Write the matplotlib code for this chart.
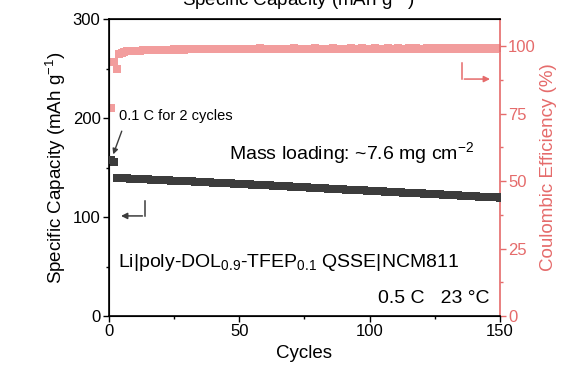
import matplotlib.pyplot as plt

plt.rcParams['font.family'] = ['Liberation Sans', 'DejaVu Sans']

cycles = list(range(1, 151))

# specific capacity, mAh/g (cycles 1-2 at 0.1 C, then 0.5 C)
capacity = [
    158.0, 155.5,
    139.6, 139.4, 139.3, 139.2, 139.0, 138.9, 138.8, 138.6, 138.5, 138.4,
    138.3, 138.1, 138.0, 137.9, 137.8, 137.6, 137.5, 137.4, 137.3, 137.1,
    137.0, 136.9, 136.8, 136.6, 136.5, 136.4, 136.2, 136.1, 136.0, 135.9,
    135.7, 135.6, 135.5, 135.3, 135.2, 135.1, 134.9, 134.8, 134.7, 134.5,
    134.4, 134.3, 134.1, 134.0, 133.9, 133.7, 133.6, 133.5, 133.3, 133.2,
    133.1, 132.9, 132.8, 132.7, 132.5, 132.4, 132.3, 132.1, 132.0, 131.9,
    131.7, 131.6, 131.4, 131.3, 131.2, 131.0, 130.9, 130.8, 130.6, 130.5,
    130.3, 130.2, 130.1, 129.9, 129.8, 129.6, 129.5, 129.4, 129.2, 129.1,
    128.9, 128.8, 128.7, 128.5, 128.4, 128.2, 128.1, 128.0, 127.8, 127.7,
    127.5, 127.4, 127.3, 127.1, 127.0, 126.8, 126.7, 126.6, 126.4, 126.3,
    126.1, 126.0, 125.9, 125.7, 125.6, 125.4, 125.3, 125.2, 125.0, 124.9,
    124.7, 124.6, 124.5, 124.3, 124.2, 124.0, 123.9, 123.8, 123.6, 123.5,
    123.3, 123.2, 123.1, 122.9, 122.8, 122.6, 122.5, 122.4, 122.2, 122.1,
    121.9, 121.8, 121.7, 121.5, 121.4, 121.2, 121.1, 121.0, 120.8, 120.7,
    120.6, 120.4, 120.3, 120.2, 120.0, 119.9, 119.8, 119.7,
]

# coulombic efficiency, %
efficiency = [
    77.0, 94.0, 91.5, 97.2, 97.6, 97.9, 98.0, 98.1, 98.2, 98.2,
    98.3, 98.3, 98.4, 98.4, 98.5, 98.4, 98.5, 98.6, 98.5, 98.6,
    98.6, 98.7, 98.6, 98.7, 98.8, 98.7, 98.8, 98.8, 98.7, 98.9,
    98.8, 98.9, 98.8, 98.9, 99.0, 98.9, 98.9, 99.0, 98.8, 99.0,
    98.9, 99.0, 99.1, 98.9, 99.0, 99.0, 98.8, 99.1, 99.0, 98.9,
    99.0, 99.1, 99.0, 98.9, 99.1, 99.0, 99.0, 99.2, 98.9, 99.0,
    99.1, 99.0, 98.9, 99.1, 99.0, 99.1, 99.0, 98.9, 99.1, 99.0,
    99.2, 99.0, 99.1, 98.9, 99.0, 99.1, 99.0, 99.1, 99.2, 99.0,
    99.1, 98.9, 99.0, 99.1, 99.0, 99.2, 99.1, 99.0, 99.0, 99.1,
    99.0, 99.1, 99.3, 99.1, 99.0, 99.1, 99.2, 99.0, 99.1, 99.0,
    99.1, 99.2, 99.0, 99.1, 99.1, 99.0, 99.2, 99.1, 99.0, 99.1,
    99.2, 99.0, 99.1, 99.1, 99.2, 99.0, 99.1, 99.2, 99.1, 99.0,
    99.1, 99.2, 99.1, 99.0, 99.2, 99.1, 99.1, 99.2, 99.0, 99.1,
    99.2, 99.1, 99.1, 99.2, 99.0, 99.1, 99.2, 99.1, 99.2, 99.1,
    99.1, 99.2, 99.1, 99.2, 99.1, 99.1, 99.2, 99.1, 99.2, 99.2,
]

dark = '#3c3c3c'
pink = '#f29d9d'
red = '#e56b6b'

fig = plt.figure(figsize=(5.61, 3.67), dpi=100)
ax = fig.add_axes([0.194, 0.139, 0.697, 0.809])
ax2 = ax.twinx()

ax.plot(cycles, capacity, 's', color=dark, ms=6, mew=0, zorder=3)
ax2.plot(cycles, efficiency, 's', color=pink, ms=6, mew=0)
ax.set_zorder(ax2.get_zorder() + 1)
ax.patch.set_visible(False)

ax.set_xlim(0, 150)
ax.set_ylim(0, 300)
ax2.set_ylim(0, 110)
ax.set_xticks([0, 50, 100, 150])
ax.set_xticks([25, 75, 125], minor=True)
ax.set_yticks([0, 100, 200, 300])
ax.set_yticks([50, 150, 250], minor=True)
ax2.set_yticks([0, 25, 50, 75, 100])
ax2.set_yticks([12.5, 37.5, 62.5, 87.5], minor=True)

ax.tick_params(which='major', length=4, width=1, labelsize=12, direction='out', pad=2)
ax.tick_params(which='minor', length=2.5, width=1, direction='out')
ax2.tick_params(which='both', colors=red, labelsize=12, width=1, pad=2)
ax2.tick_params(which='major', length=4)
ax2.tick_params(which='minor', length=2.5)
for s in ['left', 'bottom', 'top']:
    ax.spines[s].set_linewidth(1.2)
ax2.spines['right'].set_color(red)
ax2.spines['right'].set_linewidth(1.2)
ax.spines['right'].set_visible(False)

ax.set_xlabel('Cycles', fontsize=13.5, labelpad=4)
ax.set_ylabel('Specific Capacity (mAh g$^{\\mathregular{-1}}$)', fontsize=13.5, labelpad=3)
ax2.set_ylabel('Coulombic Efficiency (%)', fontsize=13.5, color=red, labelpad=3)

fig.text(0.532, 0.983, 'Specific Capacity (mAh g$^{\\mathregular{-1}}$)', fontsize=13.5,
         ha='center', va='baseline')

# direction arrows
ax.plot([0.092, 0.092], [0.387, 0.337], color=dark, lw=1.1, transform=ax.transAxes)
ax.annotate('', xy=(0.024, 0.337), xytext=(0.093, 0.337), xycoords='axes fraction',
            arrowprops=dict(arrowstyle='-|>', color=dark, lw=1.1, mutation_scale=9))
ax.plot([0.903, 0.903], [0.852, 0.798], color=red, lw=1.1, transform=ax.transAxes)
ax.annotate('', xy=(0.982, 0.798), xytext=(0.902, 0.798), xycoords='axes fraction',
            arrowprops=dict(arrowstyle='-|>', color=red, lw=1.1, mutation_scale=9))

ax.annotate('0.1 C for 2 cycles', xy=(1.5, 162), xytext=(0.026, 0.673),
            textcoords='axes fraction', fontsize=10.5, va='center', ha='left',
            arrowprops=dict(arrowstyle='-|>', color=dark, lw=1, mutation_scale=8,
                            shrinkA=4, shrinkB=1, relpos=(0.05, 0)))
ax.text(0.307, 0.545, 'Mass loading: ~7.6 mg cm$^{\\mathregular{-2}}$', fontsize=14,
        transform=ax.transAxes, va='center')
ax.text(0.023, 0.18, 'Li|poly-DOL$_{\\mathregular{0.9}}$-TFEP$_{\\mathregular{0.1}}$ QSSE|NCM811',
        fontsize=14, transform=ax.transAxes, va='center')
ax.text(0.974, 0.06, '0.5 C   23 \u00b0C', fontsize=14, transform=ax.transAxes,
        va='center', ha='right')

fig.savefig('out.png', dpi=100)
